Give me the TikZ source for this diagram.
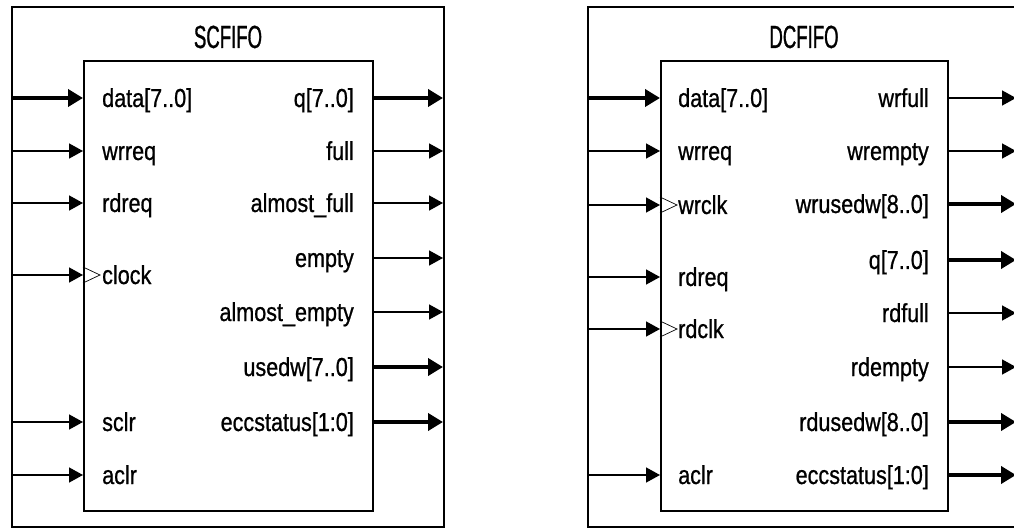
\documentclass[tikz,border=0pt]{standalone}
\usepackage{fontspec}
\setmainfont[FakeStretch=0.83,FakeBold=0.8]{Liberation Sans}
\newfontfamily\titlefont[FakeStretch=0.58,FakeBold=0.9]{Liberation Sans}
\usetikzlibrary{arrows.meta}
\begin{document}
\begin{tikzpicture}[x=1pt,y=-1pt,
  frame/.style={draw, line width=1.3pt},
  block/.style={draw, line width=2pt, inner sep=0pt, anchor=north west, minimum height=450pt},
  sig/.style={line width=1.5pt, -{Triangle[length=14pt,width=15pt]}},
  bus/.style={line width=4.5pt, -{Triangle[length=15pt,width=17pt]}},
  clk/.style={line width=0.7pt},
  pinl/.style={anchor=base west, font=\fontsize{26}{30}\selectfont, inner sep=0pt},
  pinr/.style={anchor=base east, font=\fontsize{26}{30}\selectfont, inner sep=0pt},
  ttl/.style={anchor=base, font=\titlefont\fontsize{32}{36}\selectfont, inner sep=0pt}]

\useasboundingbox (0,0) rectangle (1014,529);
\clip (0,0) rectangle (1014,529);

% outer frames
\draw[frame] (12,7) rectangle (444,527);
\draw[frame] (588,7) rectangle (1040,527);

% ---------------- SCFIFO ----------------
\node[block, minimum width=289pt] (sc) at (83,60) {};
\node[ttl] (sc-title) at (228,48) {SCFIFO};

\foreach \n/\y/\s/\t in {data/98/bus/{data[7..0]}, wrreq/151/sig/wrreq, rdreq/203/sig/rdreq,
    clock/275/sig/clock, sclr/422/sig/sclr, aclr/475/sig/aclr}{
  \coordinate (sc-\n-src) at (12,\y);
  \coordinate (sc-\n-pin) at (83,\y);
  \draw[\s] (sc-\n-src) -- (sc-\n-pin);
  \node[pinl] (sc-\n-lbl) at (102,{\y+9}) {\t};
}
\foreach \n/\y/\s/\t in {q/98/bus/{q[7..0]}, full/151/sig/full, afull/203/sig/almost\_full,
    empty/258/sig/empty, aempty/312/sig/almost\_empty, usedw/367/bus/{usedw[7..0]},
    ecc/422/bus/{eccstatus[1:0]}}{
  \coordinate (sc-\n-pin) at (372,\y);
  \coordinate (sc-\n-dst) at (443,\y);
  \draw[\s] (sc-\n-pin) -- (sc-\n-dst);
  \node[pinr] (sc-\n-lbl) at (354,{\y+9}) {\t};
}
\draw[clk] (83,267) -- (100,275) -- (83,283);

% ---------------- DCFIFO ----------------
\node[block, minimum width=287pt] (dc) at (660,60) {};
\node[ttl] (dc-title) at (804,48) {DCFIFO};

\foreach \n/\y/\s/\t in {data/98/bus/{data[7..0]}, wrreq/151/sig/wrreq, wrclk/205/sig/wrclk,
    rdreq/277/sig/rdreq, rdclk/329/sig/rdclk, aclr/475/sig/aclr}{
  \coordinate (dc-\n-src) at (588,\y);
  \coordinate (dc-\n-pin) at (660,\y);
  \draw[\s] (dc-\n-src) -- (dc-\n-pin);
  \node[pinl] (dc-\n-lbl) at (678,{\y+9}) {\t};
}
\foreach \n/\y/\s/\t in {wrfull/98/sig/wrfull, wrempty/151/sig/wrempty, wrusedw/204/bus/{wrusedw[8..0]},
    q/260/bus/{q[7..0]}, rdfull/313/sig/rdfull, rdempty/367/sig/rdempty,
    rdusedw/422/bus/{rdusedw[8..0]}, ecc/475/bus/{eccstatus[1:0]}}{
  \coordinate (dc-\n-pin) at (947,\y);
  \coordinate (dc-\n-dst) at (1016,\y);
  \draw[\s] (dc-\n-pin) -- (dc-\n-dst);
  \node[pinr] (dc-\n-lbl) at (929,{\y+9}) {\t};
}
\draw[clk] (660,197) -- (677,205) -- (660,213);
\draw[clk] (660,321) -- (677,329) -- (660,337);
\end{tikzpicture}
\end{document}
